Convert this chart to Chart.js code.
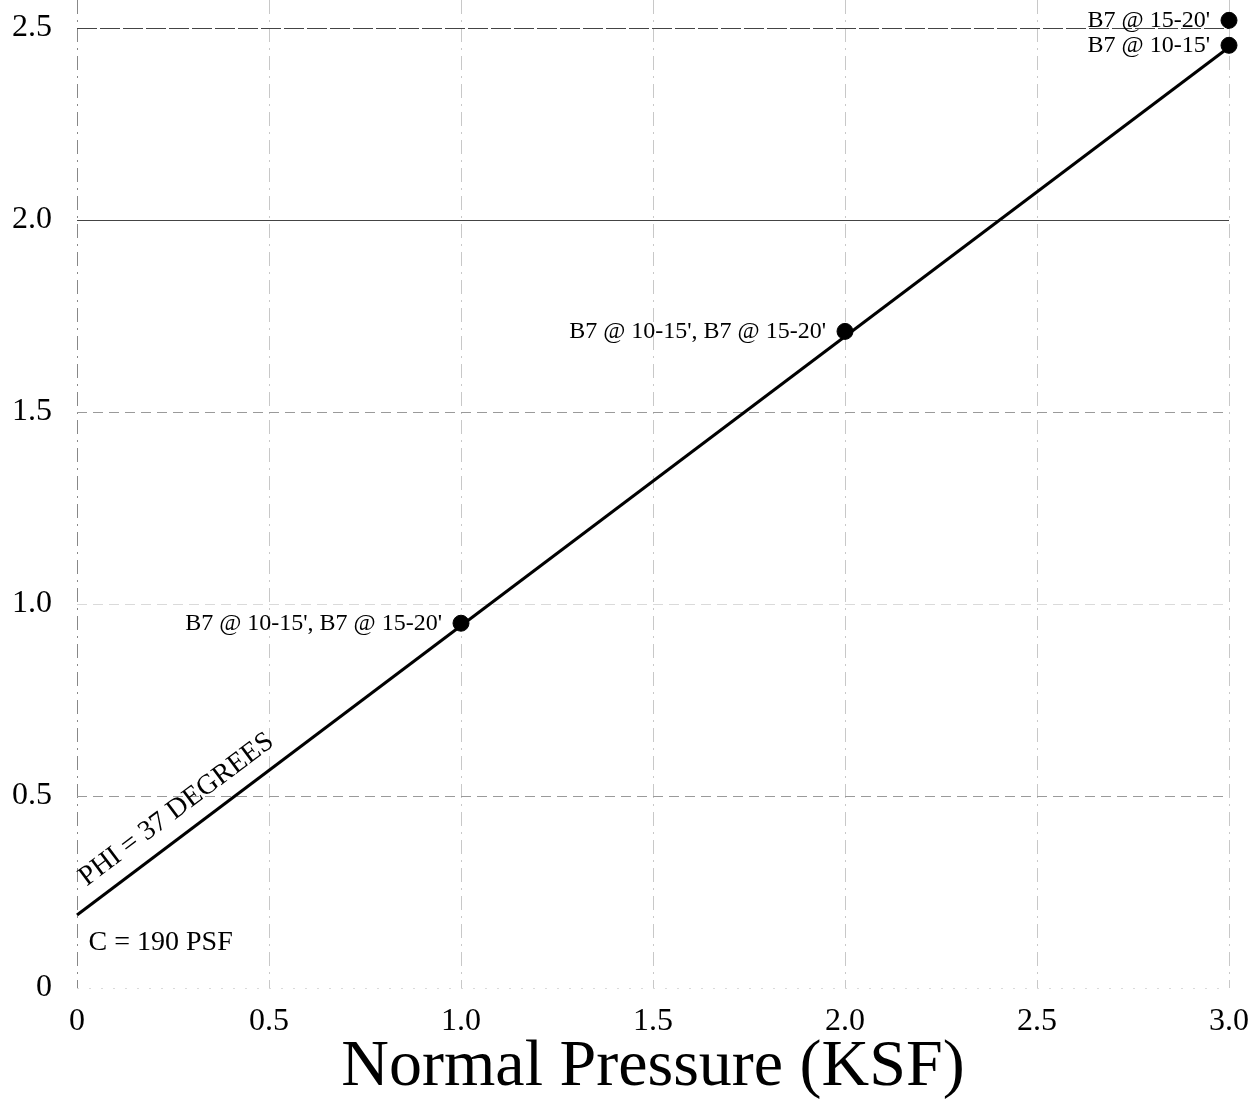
<!DOCTYPE html>
<html>
<head>
<meta charset="utf-8">
<title>Normal Pressure (KSF)</title>
<script src="https://cdn.jsdelivr.net/npm/chart.js@4.4.0/dist/chart.umd.min.js"></script>
<style>
    html, body { margin: 0; padding: 0; background: #ffffff; }
    #shearChart { display: block; }
</style>
</head>
<body>
<canvas id="shearChart" width="1249" height="1107"></canvas>
<script>
// test points (normal pressure vs shear strength, ksf)
const normalPressure = [1.0, 2.0, 3.0, 3.0];
const shearStrength = [0.95, 1.71, 2.455, 2.52];
const pointLabels = [
    "B7 @ 10-15', B7 @ 15-20'",
    "B7 @ 10-15', B7 @ 15-20'",
    "B7 @ 10-15'",
    "B7 @ 15-20'"
];

// fitted failure envelope
const fitX = [0, 3.0];
const fitY = [0.19, 2.45];

const phiLabel = 'PHI = 37 DEGREES';
const cohesionLabel = 'C = 190 PSF';
const xTitle = 'Normal Pressure (KSF)';

const xTicks = [0, 0.5, 1.0, 1.5, 2.0, 2.5, 3.0];
const yTicks = [0, 0.5, 1.0, 1.5, 2.0, 2.5];

const serif = "'Liberation Serif', 'Times New Roman', serif";

function tickText(v) {
    return v === 0 ? '0' : v.toFixed(1);
}

const labelPlugin = {
    id: 'labelPlugin',
    afterDatasetsDraw(chart) {
        const ctx = chart.ctx;
        const xs = chart.scales.x;
        const ys = chart.scales.y;
        ctx.save();
        ctx.fillStyle = '#000';

        // point labels, to the left of each point
        ctx.font = '24px ' + serif;
        ctx.textAlign = 'right';
        ctx.textBaseline = 'middle';
        for (let i = 0; i < normalPressure.length; i++) {
            const px = xs.getPixelForValue(normalPressure[i]);
            const py = ys.getPixelForValue(shearStrength[i]);
            ctx.fillText(pointLabels[i], px - 19, py);
        }

        // phi label along the envelope
        const x0 = xs.getPixelForValue(fitX[0]), y0 = ys.getPixelForValue(fitY[0]);
        const x1 = xs.getPixelForValue(fitX[1]), y1 = ys.getPixelForValue(fitY[1]);
        const ang = Math.atan2(y1 - y0, x1 - x0);
        const t = 0.052 / (fitX[1] - fitX[0]);
        ctx.save();
        ctx.translate(x0 + (x1 - x0) * t, y0 + (y1 - y0) * t);
        ctx.rotate(ang);
        ctx.font = '28px ' + serif;
        ctx.textAlign = 'left';
        ctx.textBaseline = 'alphabetic';
        ctx.fillText(phiLabel, 0, -17);
        ctx.restore();

        // cohesion label
        ctx.font = '28px ' + serif;
        ctx.textAlign = 'left';
        ctx.textBaseline = 'middle';
        ctx.fillText(cohesionLabel, xs.getPixelForValue(0.03), ys.getPixelForValue(0.117));
        ctx.restore();
    }
};

const ctx = document.getElementById('shearChart').getContext('2d');
const shearChart = new Chart(ctx, {
    type: 'scatter',
    data: {
        datasets: [{
            label: 'Envelope',
            type: 'line',
            data: fitX.map((x, i) => ({ x: x, y: fitY[i] })),
            borderColor: '#000',
            borderWidth: 3,
            pointRadius: 0,
            fill: false,
            clip: false
        }, {
            label: 'Tests',
            data: normalPressure.map((x, i) => ({ x: x, y: shearStrength[i] })),
            backgroundColor: '#000',
            borderColor: '#000',
            pointRadius: 8,
            pointHoverRadius: 8,
            clip: false
        }]
    },
    options: {
        responsive: false,
        animation: false,
        layout: {
            autoPadding: false,
            padding: { left: 0, right: 20, top: 0, bottom: 0 }
        },
        plugins: {
            legend: { display: false },
            tooltip: { enabled: false }
        },
        scales: {
            x: {
                type: 'linear',
                min: 0,
                max: 3.0,
                afterBuildTicks: scale => {
                    scale.ticks = xTicks.map(v => ({ value: v }));
                },
                afterFit: scale => {
                    scale.height = 119;
                    scale.paddingLeft = 0;
                    scale.paddingRight = 0;
                },
                ticks: {
                    padding: 14,
                    color: '#000',
                    font: { family: serif, size: 32 },
                    callback: v => tickText(v)
                },
                grid: {
                    drawTicks: false,
                    lineWidth: 1,
                    color: c => c.tick && c.tick.value === 0 ? '#888' : '#c8c8c8'
                },
                border: {
                    display: false,
                    dash: [14, 6, 2, 6]
                },
                title: {
                    display: true,
                    text: xTitle,
                    color: '#000',
                    font: { family: serif, size: 66 },
                    padding: { top: 0, bottom: 0 }
                }
            },
            y: {
                type: 'linear',
                min: 0,
                max: 2.573,
                afterBuildTicks: scale => {
                    scale.ticks = yTicks.map(v => ({ value: v }));
                },
                afterFit: scale => {
                    scale.width = 77;
                    scale.paddingTop = 0;
                    scale.paddingBottom = 0;
                },
                ticks: {
                    padding: 25,
                    color: '#000',
                    font: { family: serif, size: 32 },
                    callback: v => tickText(v)
                },
                grid: {
                    drawTicks: false,
                    lineWidth: 1,
                    color: c => {
                        const v = c.tick ? c.tick.value : 0;
                        if (v >= 2.0) return '#444';
                        if (v === 1.5 || v === 0.5) return '#9a9a9a';
                        return '#dadada';
                    }
                },
                border: {
                    display: false,
                    dash: c => {
                        const v = c.tick ? c.tick.value : 0;
                        if (v === 2.0) return [];
                        if (v === 2.5) return [20, 3];
                        if (v === 0) return [2, 10];
                        return [10, 6];
                    }
                }
            }
        }
    },
    plugins: [labelPlugin]
});
</script>
</body>
</html>
